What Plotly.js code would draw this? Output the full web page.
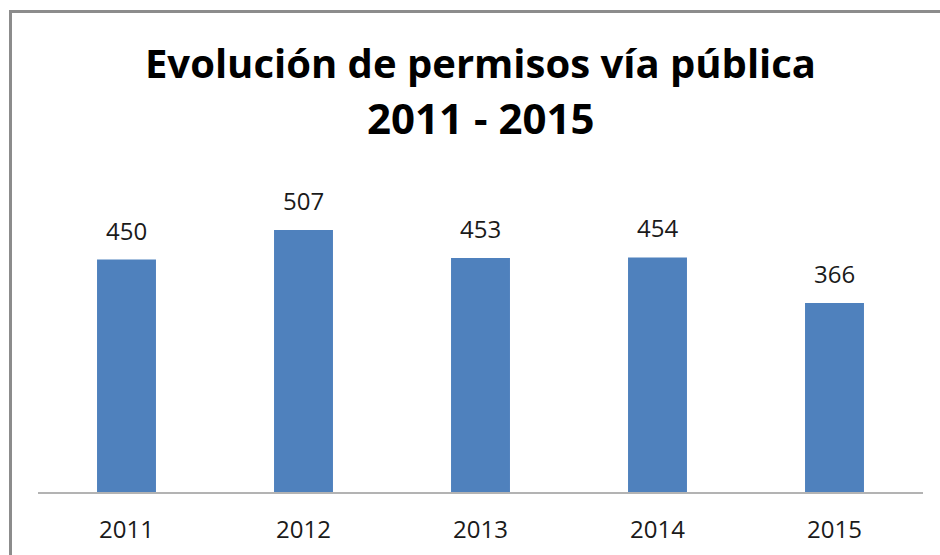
<!DOCTYPE html>
<html>
<head>
<meta charset="utf-8">
<script src="https://cdn.plot.ly/plotly-3.0.1.min.js"></script>
<style>
  html, body { margin: 0; padding: 0; background: #fff; }
  #wrap { position: relative; width: 940px; height: 555px; overflow: hidden; }
  #chart { position: absolute; left: 0; top: 0; width: 940px; height: 555px; }
  #frame { position: absolute; left: 9px; top: 10px; width: 960px; height: 600px;
           border-left: 3px solid #8c8c8c; border-top: 3px solid #8c8c8c; pointer-events: none; }
</style>
</head>
<body>
<div id="wrap">
  <div id="chart"></div>
  <div id="frame"></div>
</div>
<script>
const years = ['2011', '2012', '2013', '2014', '2015'];
const permisos = [450, 507, 453, 454, 366];
const titleLine1 = 'Evolución de permisos vía pública';
const titleLine2 = '2011 - 2015';

const FONT = 'Open Sans, Liberation Sans, sans-serif';

const trace = {
  type: 'bar',
  x: years,
  y: permisos,
  marker: { color: '#4F81BD' },
  hoverinfo: 'none'
};

const annotations = years.map((yr, i) => ({
  x: i,
  y: permisos[i],
  xref: 'x',
  yref: 'y',
  text: String(permisos[i]),
  showarrow: false,
  yanchor: 'bottom',
  yshift: 11,
  font: { family: FONT, size: 24, color: '#1a1a1a' }
}));

annotations.push({
  x: 0.5,
  y: (492 - 118) / 310,
  xref: 'paper',
  yref: 'paper',
  xanchor: 'center',
  yanchor: 'middle',
  text: titleLine2,
  showarrow: false,
  font: { family: FONT, size: 42, color: '#000000', weight: 'bold' }
});

const layout = {
  width: 940,
  height: 555,
  margin: { l: 38, r: 17, t: 182, b: 63 },
  paper_bgcolor: '#ffffff',
  plot_bgcolor: '#ffffff',
  showlegend: false,
  bargap: 0.667,
  title: {
    text: titleLine1,
    font: { family: FONT, size: 40, color: '#000000', weight: 'bold' },
    x: 0.5,
    xref: 'paper',
    xanchor: 'center',
    y: 1 - 64 / 555,
    yref: 'container',
    yanchor: 'middle'
  },
  xaxis: {
    type: 'category',
    range: [-0.5, 4.5],
    showline: true,
    linecolor: '#b3b3b3',
    linewidth: 2,
    ticks: '',
    showgrid: false,
    zeroline: false,
    ticklabelstandoff: 15,
    tickfont: { family: FONT, size: 24, color: '#1a1a1a' }
  },
  yaxis: {
    range: [0, 600],
    visible: false,
    showgrid: false,
    zeroline: false
  },
  annotations: annotations
};

Plotly.newPlot('chart', [trace], layout, { staticPlot: true, displayModeBar: false });
</script>
</body>
</html>
